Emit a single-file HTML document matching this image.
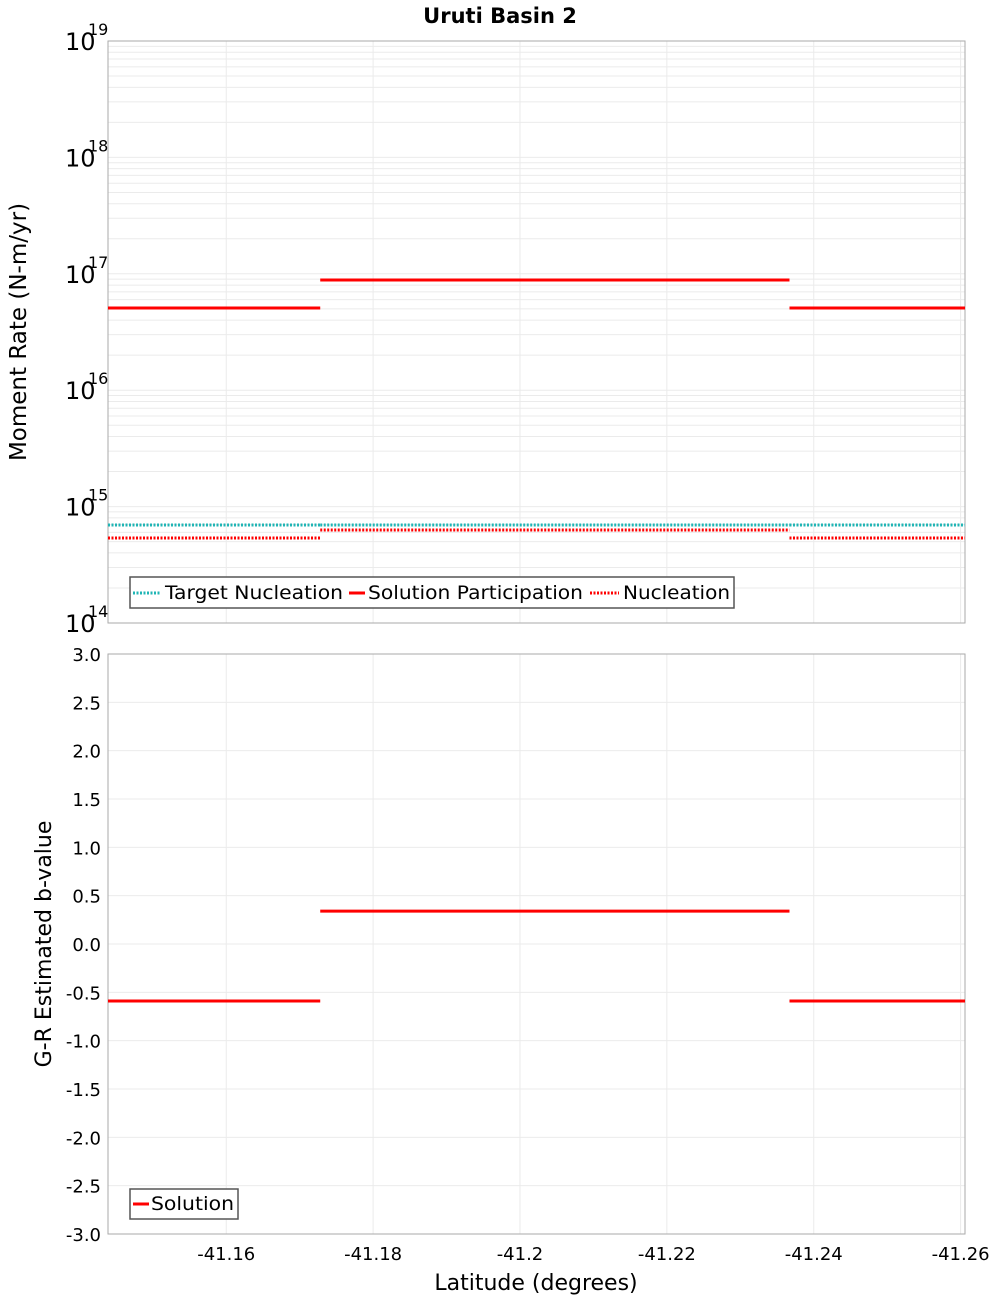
<!DOCTYPE html>
<html><head><meta charset="utf-8"><style>body{margin:0;background:#fff}svg{font-family:"DejaVu Sans","Liberation Sans",sans-serif}</style></head>
<body>
<svg id="c" width="1000" height="1300" xmlns="http://www.w3.org/2000/svg"></svg>
<script>
const xTicks=[-41.16,-41.18,-41.2,-41.22,-41.24,-41.26];
const xTickLabels=["-41.16","-41.18","-41.2","-41.22","-41.24","-41.26"];
const segStart=[-41.1439,-41.1728,-41.2367];
const segEnd=[-41.1728,-41.2367,-41.2606];
const solutionPart=[5.08e16,8.85e16,5.08e16];
const targetNucl=[6.95e14,6.95e14,6.95e14];
const nucleation=[5.37e14,6.3e14,5.37e14];
const bValues=[-0.59,0.34,-0.59];
const logDecades=[14,15,16,17,18,19];
const bTicks=[-3,-2.5,-2,-1.5,-1,-0.5,0,0.5,1,1.5,2,2.5,3];
const bTickLabels=["-3.0","-2.5","-2.0","-1.5","-1.0","-0.5","0.0","0.5","1.0","1.5","2.0","2.5","3.0"];

const svg=document.getElementById('c');const NS='http://www.w3.org/2000/svg';
function el(t,a,p){const e=document.createElementNS(NS,t);for(const k in a)e.setAttribute(k,a[k]);(p||svg).appendChild(e);return e;}
const X0=108,X1=965,xmin=-41.1439,xmax=-41.2606;
const sx=v=>X0+(v-xmin)/(xmax-xmin)*(X1-X0);
const T0=41,T1=623;const sy1=v=>T1-(Math.log10(v)-14)/5*(T1-T0);
const B0=654,B1=1234;const sy2=v=>B1-(v+3)/6*(B1-B0);

let t=el('text',{x:500,y:23,'text-anchor':'middle','font-size':21,'font-weight':'bold'});t.textContent='Uruti Basin 2';


const g1=el('g',{});
for(let d=14;d<19;d++)for(let m=1;m<10;m++){const y=sy1(m*Math.pow(10,d));el('line',{x1:X0,x2:X1,y1:y,y2:y,stroke:'#ebebeb','stroke-width':1},g1);}
xTicks.forEach(v=>{const x=sx(v);el('line',{x1:x,x2:x,y1:T0,y2:T1,stroke:'#ebebeb'},g1);});
el('rect',{x:X0,y:T0,width:X1-X0,height:T1-T0,fill:'none',stroke:'#aaa'},g1);
logDecades.forEach(d=>{const y=sy1(Math.pow(10,d));const tx=el('text',{x:65,y:y+9,'font-size':24,'text-anchor':'start'},g1);tx.textContent='10';
const s=el('text',{x:88,y:y-6,'font-size':16},g1);s.textContent=String(d);});
t=el('text',{x:26,y:332,'font-size':23,'text-anchor':'middle',transform:'rotate(-90 26 332)'},g1);t.textContent='Moment Rate (N-m/yr)';

function seg(arr,sy,color,dash,name,g){arr.forEach((v,i)=>{const l=el('line',{x1:sx(segStart[i]),x2:sx(segEnd[i]),y1:sy(v),y2:sy(v),stroke:color,'stroke-width':3,'stroke-dasharray':dash},g);
});}
seg(targetNucl,sy1,'#1fb5b5','2 1.5','target-nucleation-segment',g1);
seg(nucleation,sy1,'#f00','2 1.5','nucleation-segment',g1);
seg(solutionPart,sy1,'#f00','none','solution-participation-segment',g1);
const lg=el('g',{},g1);
el('rect',{x:130,y:577,width:604,height:31,fill:'#fff',stroke:'#555','stroke-width':1.5},lg);
el('line',{x1:133,x2:161,y1:593,y2:593,stroke:'#1fb5b5','stroke-width':3,'stroke-dasharray':'2 1.5'},lg);
t=el('text',{x:165,y:599,'font-size':19,textLength:178,lengthAdjust:'spacingAndGlyphs'},lg);t.textContent='Target Nucleation';
el('line',{x1:349,x2:365,y1:593,y2:593,stroke:'#f00','stroke-width':3},lg);
t=el('text',{x:368,y:599,'font-size':19,textLength:215,lengthAdjust:'spacingAndGlyphs'},lg);t.textContent='Solution Participation';
el('line',{x1:590,x2:619,y1:593,y2:593,stroke:'#f00','stroke-width':3,'stroke-dasharray':'2 1.5'},lg);
t=el('text',{x:623,y:599,'font-size':19,textLength:107,lengthAdjust:'spacingAndGlyphs'},lg);t.textContent='Nucleation';

const g2=el('g',{});
bTicks.forEach((v,i)=>{const y=sy2(v);el('line',{x1:X0,x2:X1,y1:y,y2:y,stroke:'#ebebeb'},g2);
const tx=el('text',{x:101,y:y+7,'font-size':18,'text-anchor':'end'},g2);tx.textContent=bTickLabels[i];});
xTicks.forEach((v,i)=>{const x=sx(v);el('line',{x1:x,x2:x,y1:B0,y2:B1,stroke:'#ebebeb'},g2);
const tx=el('text',{x:x,y:1260,'font-size':18,'text-anchor':'middle'},g2);tx.textContent=xTickLabels[i];});
el('rect',{x:X0,y:B0,width:X1-X0,height:B1-B0,fill:'none',stroke:'#aaa'},g2);
seg(bValues,sy2,'#f00','none','b-value-segment',g2);
t=el('text',{x:51,y:944,'font-size':22,'text-anchor':'middle',transform:'rotate(-90 51 944)'},g2);t.textContent='G-R Estimated b-value';

t=el('text',{x:536,y:1290,'font-size':22,'text-anchor':'middle'},g2);t.textContent='Latitude (degrees)';

const lg2=el('g',{},g2);
el('rect',{x:130,y:1189,width:108,height:30,fill:'#fff',stroke:'#555','stroke-width':1.5},lg2);
el('line',{x1:133,x2:149,y1:1204,y2:1204,stroke:'#f00','stroke-width':3},lg2);
t=el('text',{x:151,y:1210,'font-size':19,textLength:83,lengthAdjust:'spacingAndGlyphs'},lg2);t.textContent='Solution';
</script>
</body></html>
